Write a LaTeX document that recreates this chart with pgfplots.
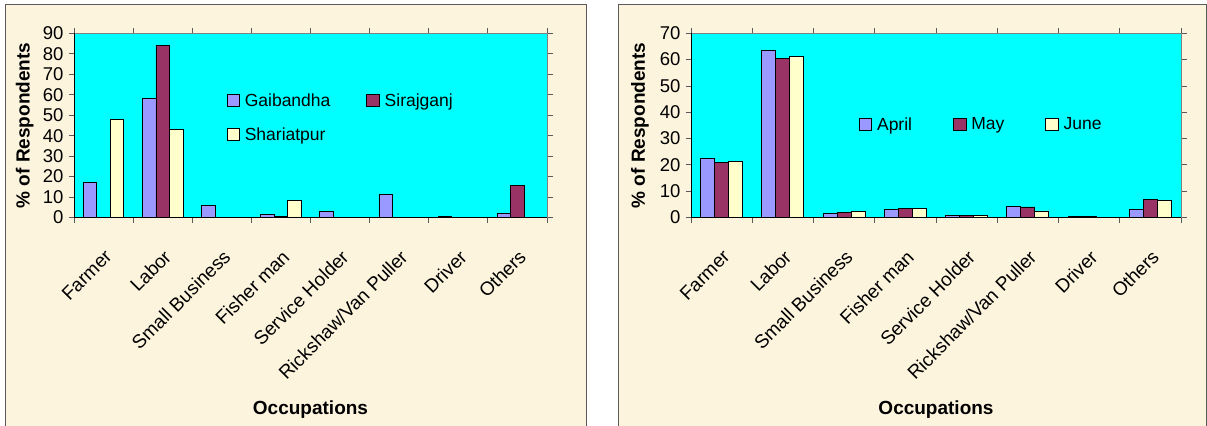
\documentclass[border=0pt]{standalone}
\usepackage{pgfplots}
\pgfplotsset{compat=1.18}
\usepackage{fontspec}
\setmainfont{Liberation Sans}
\definecolor{parch}{RGB}{253,244,222}
\definecolor{cA}{RGB}{153,153,255}
\definecolor{cB}{RGB}{153,51,102}
\definecolor{cC}{RGB}{255,255,204}
\definecolor{cy}{RGB}{0,255,255}
\definecolor{frame}{RGB}{90,90,90}
\newcommand{\fs}{\fontsize{17.5bp}{21bp}\selectfont}
\newcommand{\fx}{\fontsize{19bp}{23bp}\selectfont}
\newcommand{\fy}{\fontsize{18.5bp}{22bp}\selectfont}
\pgfplotsset{
  sqleg/.style={legend image code/.code={\draw[##1,draw=black,line width=0.8bp] (0bp,-6bp) rectangle (12.5bp,6.5bp);}},
  panel/.style={
    scale only axis, anchor=south west,
    height=184.2bp,
    xmin=-0.5, xmax=7.5, ymin=0,
    ybar=0pt,
    axis background/.style={fill=cy},
    axis line style={draw=gray, line width=0.8bp},
    tick align=outside,
    major tick length=5.5bp,
    tick style={draw=frame, line width=0.8bp},
    xtick={-0.5,0.5,...,7.5},
    xticklabels={},
    extra x ticks={0,1,2,3,4,5,6,7},
    extra x tick labels={Farmer,Labor,Small Business,Fisher man,Service Holder,Rickshaw/Van Puller,Driver,Others},
    extra x tick style={major tick length=0pt, tick label style={xshift=0bp, yshift=-31bp, rotate=45, anchor=north east, inner sep=0pt, font=\fx}},
    ticklabel style={font=\fy},
    yticklabel style={/pgf/number format/assume math mode=true, xshift=-1.5bp},
    xlabel={\bfseries Occupations},
    ylabel={\bfseries \% of Respondents},
    label style={font=\fx},
    xlabel style={at={(axis description cs:0.5,-1.045)}, anchor=center},
    ylabel style={at={(axis description cs:-0.104,0.5)}, anchor=center},
    legend style={draw=none, fill=none, inner sep=0pt, anchor=north west, font=\fs,
      /tikz/every odd column/.append style={column sep=3bp},
      row sep=16bp},
    legend cell align=left,
  },
  sA/.style={fill=cA, draw=black, line width=0.8bp, sqleg},
  sB/.style={fill=cB, draw=black, line width=0.8bp, sqleg},
  sC/.style={fill=cC, draw=black, line width=0.8bp, sqleg},
}
\begin{document}
\begin{tikzpicture}[x=1bp,y=1bp]
\useasboundingbox (0,0) rectangle (1207,425);
\fill[white] (0,0) rectangle (1207,425);
\fill[parch] (5,-10) rectangle (586.5,420);
\draw[frame, line width=1bp] (5,-10) rectangle (586.5,420);
\fill[parch] (618,-10) rectangle (1206.5,420);
\draw[frame, line width=1bp] (618,-10) rectangle (1206.5,420);

\begin{axis}[panel, at={(74bp,207.5bp)}, width=473bp, ymax=90, ytick={0,10,...,90},
  bar width=13.5bp,
  legend columns=2,
  legend style={at={(axis description cs:0.322,0.685)},
    /tikz/every even column/.append style={column sep=34bp}}]
\addplot[sA] coordinates {(0,17.3) (1,58.3) (2,6.0) (3,1.3) (4,2.8) (5,11.4) (6,0.4) (7,2.0)};
\addplot[sB] coordinates {(1,84.1) (3,0.5) (7,15.6)};
\addplot[sC] coordinates {(0,48.0) (1,43.1) (3,8.5)};
\legend{Gaibandha,Sirajganj,Shariatpur}
\draw[black, line width=0.8bp] (rel axis cs:0,1) -- (rel axis cs:0,0) -- (rel axis cs:1,0);
\end{axis}

\begin{axis}[panel, at={(691bp,207.5bp)}, width=490bp, ymax=70, ytick={0,10,...,70},
  bar width=14bp,
  legend columns=3,
  legend style={at={(axis description cs:0.342,0.555)},
    /tikz/every even column/.append style={column sep=39bp}}]
\addplot[sA] coordinates {(0,22.5) (1,63.4) (2,1.4) (3,2.9) (4,0.8) (5,4.3) (6,0.4) (7,2.9)};
\addplot[sB] coordinates {(0,21.0) (1,60.5) (2,1.8) (3,3.5) (4,0.8) (5,4.0) (6,0.4) (7,7.0)};
\addplot[sC] coordinates {(0,21.4) (1,61.3) (2,2.3) (3,3.5) (4,0.8) (5,2.5) (7,6.6)};
\legend{April,May,June}
\draw[black, line width=0.8bp] (rel axis cs:0,1) -- (rel axis cs:0,0) -- (rel axis cs:1,0);
\end{axis}
\end{tikzpicture}
\end{document}
